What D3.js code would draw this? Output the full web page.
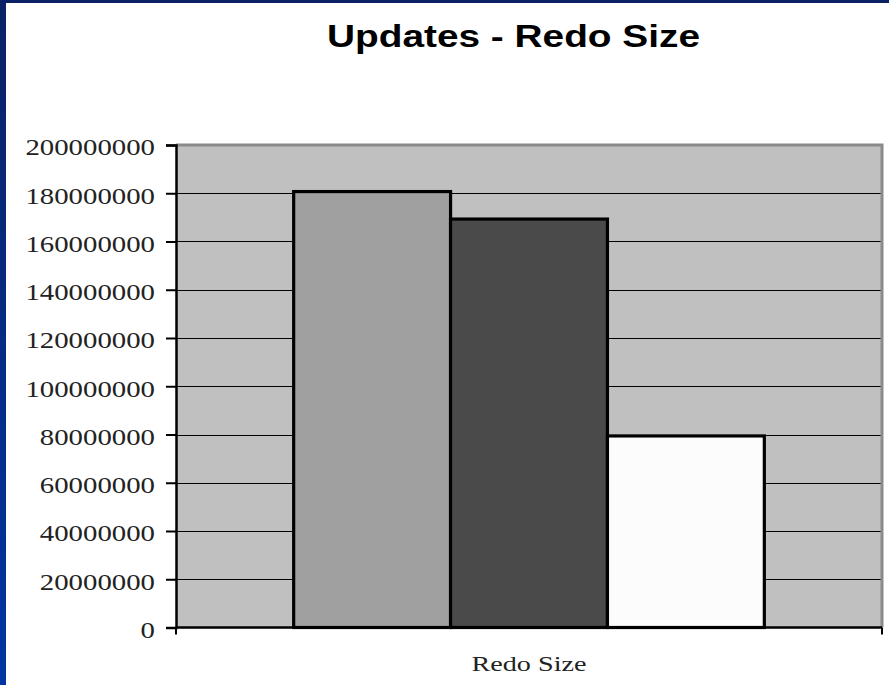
<!DOCTYPE html>
<html>
<head>
<meta charset="utf-8">
<script src="https://cdn.jsdelivr.net/npm/d3@7"></script>
<style>
html,body{margin:0;padding:0;background:#fff;}
svg{display:block;}
</style>
</head>
<body>
<svg id="chart" width="889" height="685"></svg>
<script>
// ---- data ----
const categories = ["Redo Size"];
const seriesNames = ["Series 1", "Series 2", "Series 3"];
const seriesValues = [180700000, 169300000, 79400000];
const seriesColors = ["#a0a0a0", "#4a4a4a", "#fcfcfc"];
const yTicks = [0, 20000000, 40000000, 60000000, 80000000, 100000000, 120000000, 140000000, 160000000, 180000000, 200000000];
const titleText = "Updates - Redo Size";

// ---- layout ----
const W = 889, H = 685;
const plot = {left: 176, right: 882, top: 145, bottom: 627.5};

const svg = d3.select("#chart");

// blue frame
const defs = svg.append("defs");
const grad = defs.append("linearGradient").attr("id", "blueGrad")
  .attr("x1", 0).attr("y1", 0).attr("x2", 0).attr("y2", 1);
grad.append("stop").attr("offset", "0%").attr("stop-color", "#0b2266");
grad.append("stop").attr("offset", "100%").attr("stop-color", "#0035a2");
svg.append("rect").attr("x", 0).attr("y", 0).attr("width", W).attr("height", H).attr("fill", "#fff");
svg.append("rect").attr("x", 0).attr("y", 0).attr("width", W).attr("height", 3).attr("fill", "#0a2264");
svg.append("rect").attr("x", 0).attr("y", 0).attr("width", 6).attr("height", H).attr("fill", "url(#blueGrad)");

// scales
const y = d3.scaleLinear().domain([0, 200000000]).range([plot.bottom, plot.top]);
const x0 = d3.scaleBand().domain(categories).range([plot.left, plot.right]).paddingInner(0).paddingOuter(0.25);
const x1 = d3.scaleBand().domain(seriesNames).range([0, x0.bandwidth()]).padding(0);

// plot area background
svg.append("rect")
  .attr("x", plot.left).attr("y", plot.top)
  .attr("width", plot.right - plot.left).attr("height", plot.bottom - plot.top)
  .attr("fill", "#c0c0c0");

// gridlines
svg.append("g").selectAll("line")
  .data(yTicks.filter(d => d > 0 && d < 200000000))
  .join("line")
  .attr("x1", plot.left).attr("x2", plot.right)
  .attr("y1", d => Math.round(y(d)) + 0.5).attr("y2", d => Math.round(y(d)) + 0.5)
  .attr("stroke", "#000").attr("stroke-width", 1.2);

// plot border (top & right gray)
svg.append("path")
  .attr("d", `M${plot.left},${plot.top} H${plot.right} V${plot.bottom}`)
  .attr("fill", "none").attr("stroke", "#8a8a8a").attr("stroke-width", 3);

// bars
const g = svg.append("g");
categories.forEach(cat => {
  g.selectAll("rect.bar")
    .data(seriesValues.map((v, i) => ({name: seriesNames[i], value: v, color: seriesColors[i]})))
    .join("rect")
    .attr("class", "bar")
    .attr("x", d => x0(cat) + x1(d.name))
    .attr("y", d => y(d.value))
    .attr("width", x1.bandwidth())
    .attr("height", d => y(0) - y(d.value))
    .attr("fill", d => d.color)
    .attr("stroke", "#000").attr("stroke-width", 3.2);
});

// y axis
const yAxis = d3.axisLeft(y).tickValues(yTicks).tickSize(10).tickFormat(d3.format("d"));
const ya = svg.append("g").attr("transform", `translate(${plot.left},0)`).call(yAxis);
ya.select(".domain").attr("stroke", "#000").attr("stroke-width", 2.5);
ya.selectAll(".tick line").attr("stroke", "#000").attr("stroke-width", 2);
ya.selectAll(".tick text")
  .attr("x", -21).attr("dy", "0.43em")
  .attr("font-family", "'Liberation Serif', 'Times New Roman', serif")
  .attr("font-size", 23).attr("fill", "#222")
  .attr("text-anchor", "end")
  .each(function(d) {
    const s = d3.format("d")(d);
    d3.select(this).attr("textLength", s.length * 14.4).attr("lengthAdjust", "spacingAndGlyphs");
  });

// x axis
const xa = svg.append("g").attr("transform", `translate(0,${plot.bottom})`);
xa.append("line").attr("x1", plot.left).attr("x2", plot.right).attr("y1", 0).attr("y2", 0)
  .attr("stroke", "#000").attr("stroke-width", 2.5);
xa.selectAll("line.edge").data([plot.left, plot.right]).join("line").attr("class", "edge")
  .attr("x1", d => d).attr("x2", d => d).attr("y1", 0).attr("y2", 7)
  .attr("stroke", "#000").attr("stroke-width", 2);
xa.selectAll("text").data(categories).join("text")
  .attr("x", d => x0(d) + x0.bandwidth() / 2).attr("y", 43.5)
  .attr("text-anchor", "middle")
  .attr("font-family", "'Liberation Serif', 'Times New Roman', serif")
  .attr("font-size", 22).attr("fill", "#222")
  .attr("textLength", 115).attr("lengthAdjust", "spacingAndGlyphs")
  .text(d => d);

// title
svg.append("text")
  .attr("x", 513.5).attr("y", 47)
  .attr("text-anchor", "middle")
  .attr("font-family", "'Liberation Sans', Arial, sans-serif")
  .attr("font-weight", "bold").attr("font-size", 32).attr("fill", "#000")
  .attr("textLength", 373).attr("lengthAdjust", "spacingAndGlyphs")
  .text(titleText);
</script>
</body>
</html>
